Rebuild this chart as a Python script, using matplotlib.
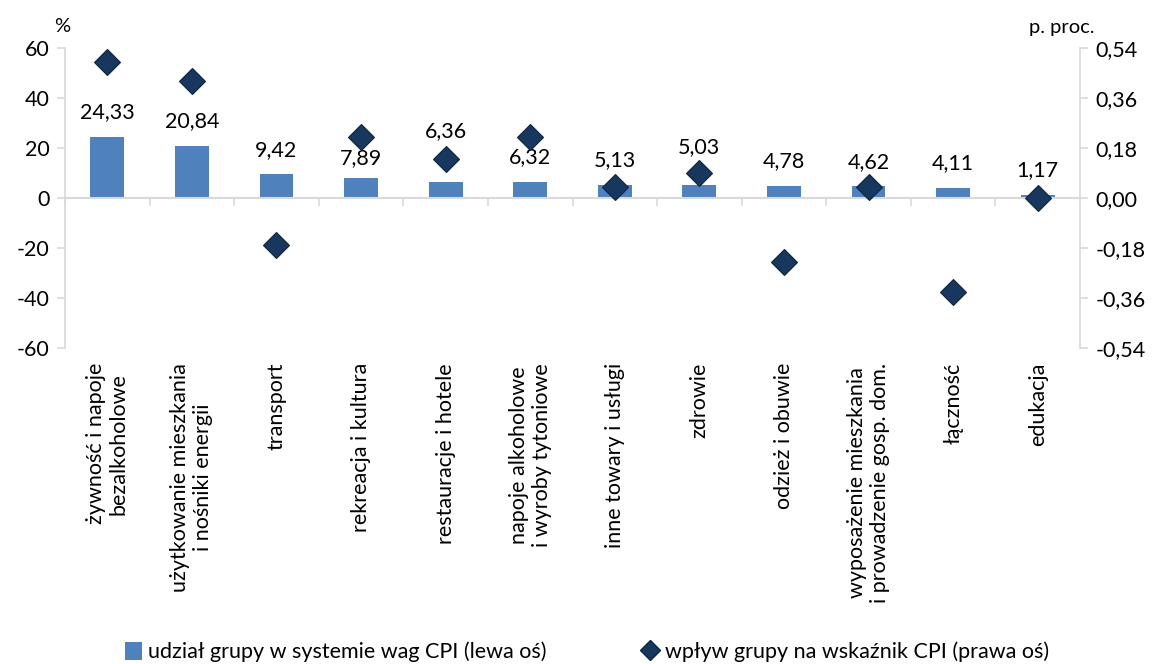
import numpy as np
import matplotlib
matplotlib.use("Agg")
import matplotlib.pyplot as plt
from matplotlib.patches import Patch
from matplotlib.lines import Line2D
from matplotlib.transforms import blended_transform_factory

plt.rcParams['font.family'] = ['Lato', 'DejaVu Sans']

# --- dane: grupy CPI ---
groups = [
    "żywność i napoje\nbezalkoholowe",
    "użytkowanie mieszkania\ni nośniki energii",
    "transport",
    "rekreacja i kultura",
    "restauracje i hotele",
    "napoje alkoholowe\ni wyroby tytoniowe",
    "inne towary i usługi",
    "zdrowie",
    "odzież i obuwie",
    "wyposażenie mieszkania\ni prowadzenie gosp. dom.",
    "łączność",
    "edukacja",
]
weights = [24.33, 20.84, 9.42, 7.89, 6.36, 6.32, 5.13, 5.03, 4.78, 4.62, 4.11, 1.17]
impact = [0.49, 0.42, -0.17, 0.22, 0.14, 0.22, 0.04, 0.09, -0.23, 0.04, -0.34, 0.00]

left_ticks = [-60, -40, -20, 0, 20, 40, 60]
right_ticks = [-0.54, -0.36, -0.18, 0.0, 0.18, 0.36, 0.54]

# przesunięcie etykiet nad słupkami (px), część odsunięta od rombów
label_offset_px = [25, 25, 24.5, 20, 51, 25, 25, 38, 25, 24.5, 25, 25]

BAR_COLOR = '#4F81BD'
DIAMOND_COLOR = '#17375E'
AXIS_COLOR = '#D9D9D9'
FS = 15.5

W, H = 1157, 664
fig = plt.figure(figsize=(W / 100, H / 100), dpi=100)
ax = fig.add_axes([65 / W, 1 - 348 / H, (1080 - 65) / W, 300 / H])
ax2 = ax.twinx()

x = np.arange(len(groups))
ax.bar(x, weights, width=0.40, color=BAR_COLOR, zorder=2)
ax2.plot(x, impact, linestyle='none', marker='D', markersize=13,
         markerfacecolor=DIAMOND_COLOR, markeredgecolor='#0F2640',
         markeredgewidth=0.8, zorder=3)

for xi, v, off in zip(x, weights, label_offset_px):
    ax.annotate(f"{v:.2f}".replace('.', ','), (xi, v), xytext=(0, off * 0.72),
                textcoords='offset points', ha='center', va='center',
                fontsize=FS, zorder=4)

ax.set_xlim(-0.5, len(groups) - 0.5)
ax.set_ylim(-60, 60)
ax.set_yticks(left_ticks)
ax.set_yticklabels([str(t) for t in left_ticks], fontsize=FS)
ax2.set_ylim(-0.54, 0.54)
ax2.set_yticks(right_ticks)
ax2.set_yticklabels([f"{t:.2f}".replace('.', ',') for t in right_ticks], fontsize=FS)

# oś pozioma w zerze, kreski między kategoriami
for a in (ax, ax2):
    a.spines['top'].set_visible(False)
ax.spines['bottom'].set_position(('data', 0))
ax.spines['bottom'].set_color(AXIS_COLOR)
ax.spines['bottom'].set_linewidth(1.5)
ax.spines['left'].set_color(AXIS_COLOR)
ax.spines['left'].set_linewidth(1.2)
ax.spines['right'].set_visible(False)
ax2.spines['left'].set_visible(False)
ax2.spines['bottom'].set_visible(False)
ax2.spines['right'].set_color(AXIS_COLOR)
ax2.spines['right'].set_linewidth(1.2)

ax.set_xticks(np.arange(len(groups) + 1) - 0.5)
ax.set_xticklabels([])
ax.tick_params(axis='x', length=6, width=1.2, color=AXIS_COLOR, direction='out')
ax.tick_params(axis='y', length=6, width=1.2, color=AXIS_COLOR, pad=5)
ax2.tick_params(axis='y', length=6, width=1.2, color=AXIS_COLOR, pad=5)

ax2.set_zorder(ax.get_zorder() + 1)
ax2.patch.set_visible(False)

trans = blended_transform_factory(ax.transData, ax.transAxes)
for xi, name in zip(x, groups):
    ax.text(xi, -0.05, name, transform=trans, rotation=90, ha='center', va='top',
            multialignment='center', fontsize=FS, linespacing=1.2)

fig.text(62 / W, 1 - 27 / H, "%", ha='center', va='center', fontsize=FS - 1)
fig.text(1062 / W, 1 - 27 / H, "p. proc.", ha='center', va='center', fontsize=FS - 1)

handles = [
    Patch(facecolor=BAR_COLOR, edgecolor='none'),
    Line2D([], [], linestyle='none', marker='D', markersize=10,
           markerfacecolor=DIAMOND_COLOR, markeredgecolor='#0F2640'),
]
labels = ["udział grupy w systemie wag CPI (lewa oś)",
          "wpływ grupy na wskaźnik CPI (prawa oś)"]
fig.legend(handles, labels, loc='center', bbox_to_anchor=(587 / W, 1 - 652 / H),
           ncol=2, frameon=False, fontsize=FS, columnspacing=4.4,
           handlelength=0.8, handleheight=0.9, handletextpad=0.3)

fig.savefig("out.png", dpi=100)
